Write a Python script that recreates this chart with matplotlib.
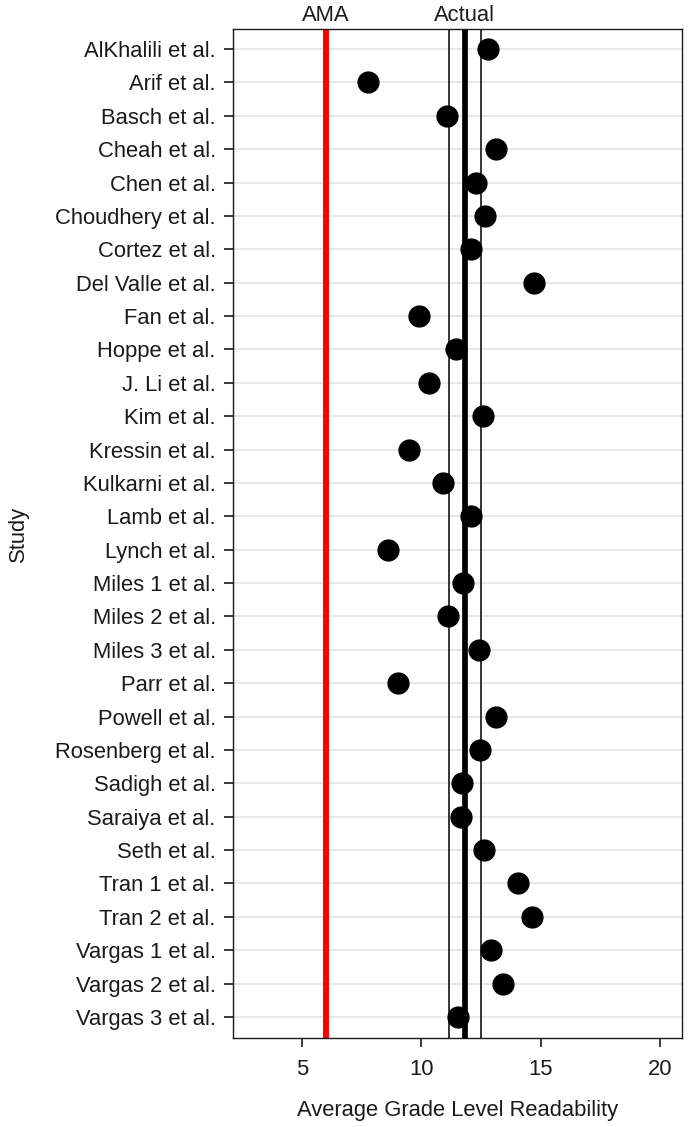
import matplotlib.pyplot as plt
import matplotlib.transforms as mtransforms

plt.rcParams["font.family"] = ["Liberation Sans", "DejaVu Sans"]

studies = [
    "AlKhalili et al.", "Arif et al.", "Basch et al.", "Cheah et al.",
    "Chen et al.", "Choudhery et al.", "Cortez et al.", "Del Valle et al.",
    "Fan et al.", "Hoppe et al.", "J. Li et al.", "Kim et al.",
    "Kressin et al.", "Kulkarni et al.", "Lamb et al.", "Lynch et al.",
    "Miles 1 et al.", "Miles 2 et al.", "Miles 3 et al.", "Parr et al.",
    "Powell et al.", "Rosenberg et al.", "Sadigh et al.", "Saraiya et al.",
    "Seth et al.", "Tran 1 et al.", "Tran 2 et al.", "Vargas 1 et al.",
    "Vargas 2 et al.", "Vargas 3 et al.",
]
grade_level = [
    12.79, 7.75, 11.06, 13.10, 12.27, 12.65, 12.07, 14.69,
    9.90, 11.44, 10.31, 12.57, 9.49, 10.91, 12.09, 8.61,
    11.72, 11.10, 12.41, 9.00, 13.14, 12.46, 11.70, 11.65,
    12.61, 14.02, 14.63, 12.91, 13.42, 11.51,
]

ama_level = 6.0
actual_mean = 11.81
actual_ci = [11.15, 12.48]

text_color = "#1a1a1a"
fs = 15.8

fig = plt.figure(figsize=(6.88, 11.27), dpi=100)
ax = fig.add_axes([0.3387, 0.079, 0.6526, 0.8953])

y = list(range(len(studies)))

# light horizontal guides
for yi in y:
    ax.axhline(yi, color="#e8e8e8", linewidth=1.4, zorder=0)

ax.axvline(ama_level, color="#ff0000", linewidth=4.3, zorder=2)
ax.axvline(actual_mean, color="black", linewidth=4.1, zorder=2)
for ci in actual_ci:
    ax.axvline(ci, color="black", linewidth=1.1, zorder=2)

ax.plot(grade_level, y, linestyle="none", marker="o", markersize=15,
        color="black", zorder=3)

ax.set_xlim(2.12, 20.9)
ax.set_ylim(len(studies) - 1 + 0.63, -0.6)
ax.set_xticks([5, 10, 15, 20])
ax.set_yticks(y)
ax.set_yticklabels(studies)

ax.tick_params(axis="both", labelsize=fs, colors=text_color, length=6.5,
               width=1.2, direction="out", pad=6)
ax.tick_params(axis="x", pad=9)
for spine in ax.spines.values():
    spine.set_linewidth(1.0)
    spine.set_color(text_color)

ax.set_xlabel("Average Grade Level Readability", fontsize=fs,
              color=text_color, labelpad=14)
ax.set_ylabel("Study", fontsize=fs, color=text_color, labelpad=19)

# reference line labels above the frame
trans = mtransforms.blended_transform_factory(ax.transData, ax.transAxes)
ax.text(ama_level, 1.003, "AMA", transform=trans, ha="center", va="bottom",
        fontsize=fs, color=text_color)
ax.text(actual_mean, 1.003, "Actual", transform=trans, ha="center",
        va="bottom", fontsize=fs, color=text_color)

fig.savefig("out.png", dpi=100)
